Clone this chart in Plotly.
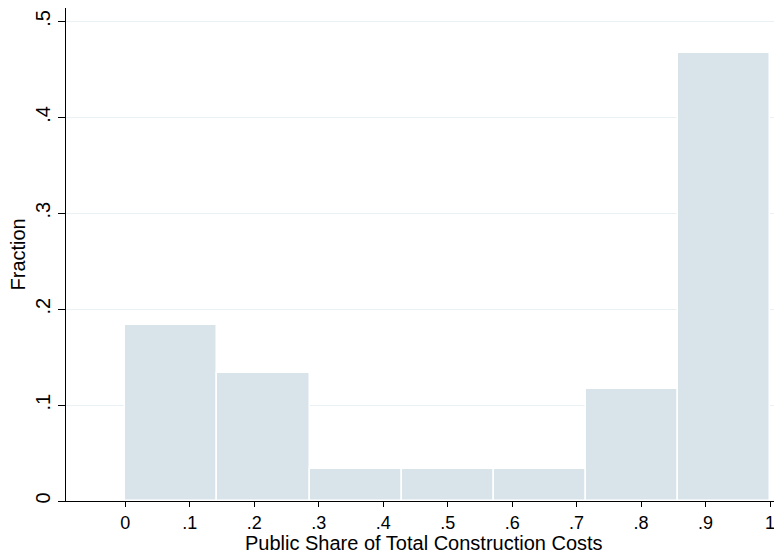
import plotly.graph_objects as go

bin_left = [0, 1/7, 2/7, 3/7, 4/7, 5/7, 6/7]
bin_width = 1/7
fraction = [11/60, 8/60, 2/60, 2/60, 2/60, 7/60, 28/60]
x_ticks = [0, .1, .2, .3, .4, .5, .6, .7, .8, .9, 1]
x_labels = ["0", ".1", ".2", ".3", ".4", ".5", ".6", ".7", ".8", ".9", "1"]
y_ticks = [0, .1, .2, .3, .4, .5]
y_labels = ["0", ".1", ".2", ".3", ".4", ".5"]
x_title = "Public Share of Total Construction Costs"
y_title = "Fraction"

centers = [b + bin_width/2 for b in bin_left]

fig = go.Figure(go.Bar(
    x=centers, y=fraction, width=bin_width,
    marker=dict(color="#d8e4ea", line=dict(color="white", width=1.5)),
))
font = "Liberation Sans, Arial, sans-serif"
# page body has an 8px margin, so the figure is offset by 8px
fig.update_layout(
    width=774, height=546,
    margin=dict(l=58, r=0, t=0, b=53),
    paper_bgcolor="white", plot_bgcolor="white",
    showlegend=False,
    font=dict(family=font, size=18, color="black"),
    bargap=0,
    annotations=[
        dict(text=x_title, xref="paper", yref="paper", x=0.5, y=0, yshift=-42,
             xanchor="center", yanchor="middle", showarrow=False, font=dict(size=20)),
        dict(text=y_title, xref="paper", yref="paper", x=0, y=0.5, xshift=-49,
             xanchor="center", yanchor="middle", textangle=-90, showarrow=False,
             font=dict(size=20)),
    ],
)
fig.update_xaxes(
    range=[-0.092, 1.0186], tickvals=x_ticks, ticktext=x_labels,
    ticks="outside", ticklen=5, tickcolor="black", tickwidth=1.2,
    showline=True, linecolor="black", linewidth=1.3, showgrid=False, zeroline=False,
    tickfont=dict(size=18), automargin=False,
)
fig.update_yaxes(
    range=[0, 0.514], tickvals=y_ticks, ticktext=y_labels, tickangle=-90,
    ticks="outside", ticklen=7, tickcolor="black", tickwidth=1.2,
    showline=True, linecolor="black", linewidth=1.3,
    showgrid=True, gridcolor="#eaf1f4", gridwidth=1.2, zeroline=False,
    tickfont=dict(size=20), automargin=False,
)
fig.write_html("out.html")
